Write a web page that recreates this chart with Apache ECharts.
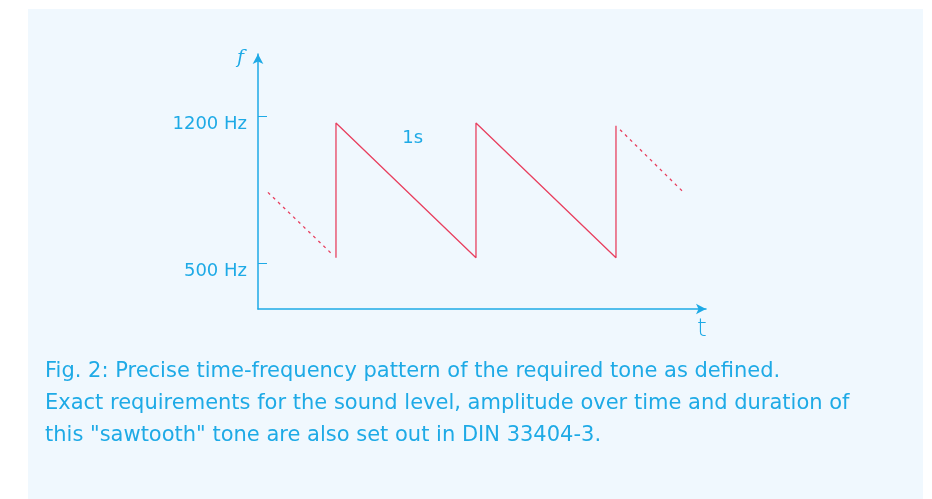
<!DOCTYPE html>
<html>
<head>
<meta charset="utf-8">
<script src="https://cdn.jsdelivr.net/npm/echarts@6/dist/echarts.min.js"></script>
<style>
  html, body { margin: 0; padding: 0; background: #ffffff; }
  #chart { width: 932px; height: 499px; }
</style>
</head>
<body>
<div id="chart"></div>
<script>
// sawtooth tone: time in s, frequency in Hz
var sawSolid = [[0.557, 525], [0.557, 1170], [1.557, 525], [1.557, 1170], [2.557, 525], [2.557, 1157]];
var sawLeadIn = [[0.071, 838], [0.536, 538]];
var sawLeadOut = [[2.586, 1138], [3.043, 836]];
var freqTicks = [500, 1200];
var periodLabel = { text: '1s', coord: [1.105, 1095] };
var caption = [
  'Fig. 2: Precise time-frequency pattern of the required tone as defined.',
  'Exact requirements for the sound level, amplitude over time and duration of',
  'this "sawtooth" tone are also set out in DIN 33404-3.'
];

var blue = '#1eaae6';
var red = '#e8405f';
var font = 'DejaVu Sans';

var myChart = echarts.init(document.getElementById('chart'));
var option = {
  backgroundColor: '#ffffff',
  animation: false,
  graphic: [{
    type: 'rect',
    z: -10,
    shape: { x: 28, y: 9, width: 895, height: 490 },
    style: { fill: '#f0f8fe' }
  }],
  title: {
    text: caption.join('\n'),
    left: 45,
    top: 356,
    padding: 0,
    textStyle: {
      color: blue,
      fontFamily: font,
      fontWeight: 'normal',
      fontSize: 21,
      lineHeight: 32
    }
  },
  grid: {
    left: 258,
    right: 226,
    top: 54,
    bottom: 190
  },
  xAxis: {
    type: 'value',
    min: 0,
    max: 3.2,
    name: 't',
    nameLocation: 'end',
    nameGap: -4,
    nameTextStyle: {
      color: blue,
      fontFamily: font,
      fontWeight: 300,
      fontSize: 25,
      align: 'center',
      verticalAlign: 'top',
      padding: [8, 0, 0, 0]
    },
    axisLine: {
      show: true,
      symbol: ['none', 'arrow'],
      symbolSize: [8, 10],
      lineStyle: { color: blue, width: 1.5 }
    },
    axisTick: { show: false },
    axisLabel: { show: false },
    splitLine: { show: false }
  },
  yAxis: {
    type: 'value',
    min: 280,
    max: 1500,
    name: 'f',
    nameLocation: 'end',
    nameGap: -4,
    nameTextStyle: {
      color: blue,
      fontFamily: 'DejaVu Serif',
      fontStyle: 'italic',
      fontSize: 19,
      align: 'right',
      verticalAlign: 'middle',
      padding: [0, 14, 0, 0]
    },
    axisLine: {
      show: true,
      symbol: ['none', 'arrow'],
      symbolSize: [8, 10],
      lineStyle: { color: blue, width: 1.5 }
    },
    axisTick: {
      show: true,
      inside: true,
      length: 9,
      customValues: freqTicks,
      lineStyle: { color: blue, width: 1 }
    },
    axisLabel: {
      show: true,
      customValues: freqTicks,
      formatter: function (v) { return v + ' Hz'; },
      color: blue,
      fontFamily: font,
      fontSize: 18,
      margin: 11,
      verticalAlign: 'top',
      padding: [-1, 0, 0, 0]
    },
    splitLine: { show: false }
  },
  series: [
    {
      type: 'line',
      data: sawSolid,
      showSymbol: false,
      lineStyle: { color: red, width: 1.3 },
      markPoint: {
        symbol: 'circle',
        symbolSize: 0,
        label: {
          show: true,
          formatter: periodLabel.text,
          color: blue,
          fontFamily: font,
          fontSize: 18
        },
        data: [{ coord: periodLabel.coord }]
      }
    },
    {
      type: 'line',
      data: sawLeadIn,
      showSymbol: false,
      lineStyle: { color: red, width: 1.3, type: [3, 4] }
    },
    {
      type: 'line',
      data: sawLeadOut,
      showSymbol: false,
      lineStyle: { color: red, width: 1.3, type: [3, 4] }
    }
  ]
};
myChart.setOption(option);
</script>
</body>
</html>
